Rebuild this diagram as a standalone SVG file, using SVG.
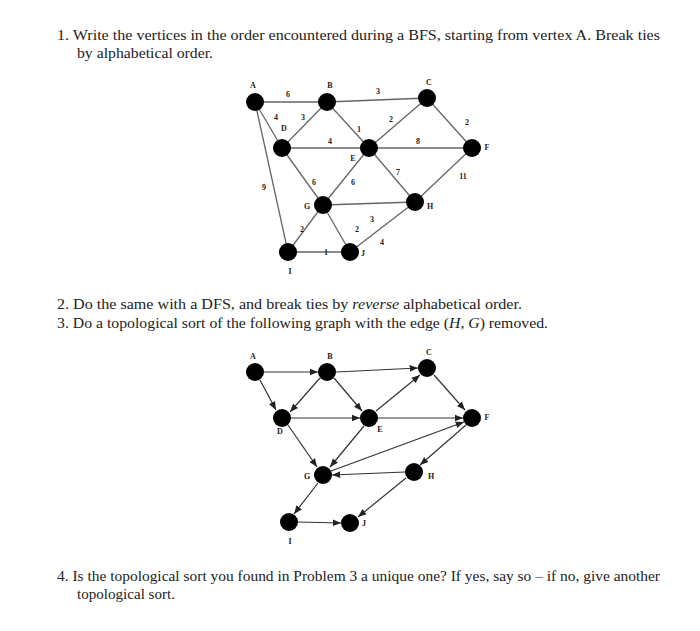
<svg xmlns="http://www.w3.org/2000/svg" width="700" height="631" viewBox="0 0 700 631">
<style>
.t{font-family:"Liberation Serif",serif;font-size:15.5px;fill:#222}
.e{stroke:#666;stroke-width:1.3;fill:none}
.a{stroke:#333;stroke-width:1.2;fill:none;marker-end:url(#ar)}
.n{fill:#000}
.l{font-family:"Liberation Serif",serif;font-size:8px;font-weight:bold;fill:#222;text-anchor:middle}
</style>
<defs><marker id="ar" viewBox="0 0 10 10" refX="10" refY="5" markerWidth="7" markerHeight="7" orient="auto"><path d="M0,1 L10,5 L0,9 z" fill="#222"/></marker></defs>
<rect width="700" height="631" fill="#fff"/>
<text class="t" x="57" y="40" textLength="603" lengthAdjust="spacingAndGlyphs">1. Write the vertices in the order encountered during a BFS, starting from vertex A. Break ties</text>
<text class="t" x="77" y="58" textLength="136" lengthAdjust="spacingAndGlyphs">by alphabetical order.</text>
<text class="t" x="57" y="309" textLength="465" lengthAdjust="spacingAndGlyphs">2. Do the same with a DFS, and break ties by <tspan font-style="italic">reverse</tspan> alphabetical order.</text>
<text class="t" x="57" y="328" textLength="491" lengthAdjust="spacingAndGlyphs">3. Do a topological sort of the following graph with the edge (<tspan font-style="italic">H, G</tspan>) removed.</text>
<text class="t" x="57" y="581" textLength="603" lengthAdjust="spacingAndGlyphs">4. Is the topological sort you found in Problem 3 a unique one? If yes, say so – if no, give another</text>
<text class="t" x="77" y="599" textLength="98" lengthAdjust="spacingAndGlyphs">topological sort.</text>
<g id="edges1">
<path class="e" d="M255,102L327,102M327,102L427,98M255,102L282,148M327,102L282,148M327,102L369,148M427,98L369,148M282,148L472,148M427,98L472,148M255,102L288,252M282,148L323,205M369,148L323,205M369,148L415,202M472,148L415,202M323,205L415,202M323,205L288,252M323,205L350,252M288,252L350,252M415,202L350,252"/>
</g>
<g id="weights1" class="l">
<text x="288" y="97">6</text><text x="378" y="94">3</text><text x="276" y="120">4</text><text x="303" y="120">3</text><text x="359" y="132">1</text><text x="391" y="122">2</text><text x="330" y="144">4</text><text x="418" y="144">8</text><text x="467" y="125">2</text><text x="264" y="190">9</text><text x="314" y="185">6</text><text x="353" y="185">6</text><text x="398" y="175">7</text><text x="463" y="179">11</text><text x="372" y="222">3</text><text x="302" y="232">2</text><text x="357" y="232">2</text><text x="326" y="255">1</text><text x="382" y="245">4</text>
</g>
<g id="nodes1">
<g id="g1A"><circle class="n" cx="255" cy="102" r="9"/><text class="l" x="253" y="88">A</text></g>
<g id="g1B"><circle class="n" cx="327" cy="102" r="9"/><text class="l" x="330" y="88">B</text></g>
<g id="g1C"><circle class="n" cx="427" cy="98" r="9"/><text class="l" x="429" y="85">C</text></g>
<g id="g1D"><circle class="n" cx="282" cy="148" r="9"/><text class="l" x="284" y="131">D</text></g>
<g id="g1E"><circle class="n" cx="369" cy="148" r="9"/><text class="l" x="353" y="161">E</text></g>
<g id="g1F"><circle class="n" cx="472" cy="148" r="9"/><text class="l" x="487" y="150">F</text></g>
<g id="g1G"><circle class="n" cx="323" cy="205" r="9"/><text class="l" x="307" y="209">G</text></g>
<g id="g1H"><circle class="n" cx="415" cy="202" r="9"/><text class="l" x="430" y="209">H</text></g>
<g id="g1I"><circle class="n" cx="288" cy="252" r="9"/><text class="l" x="290" y="274">I</text></g>
<g id="g1J"><circle class="n" cx="350" cy="252" r="9"/><text class="l" x="363" y="256">J</text></g>
</g>
<g id="edges2">
<path class="a" d="M264,372L318,372"/><path class="a" d="M260,380L276,410"/><path class="a" d="M336,372L418,368"/><path class="a" d="M320,378L290,412"/><path class="a" d="M334,378L362,411"/><path class="a" d="M434,375L465,410"/><path class="a" d="M291,418L360,418"/><path class="a" d="M288,425L317,467"/><path class="a" d="M376,411L420,375"/><path class="a" d="M378,418L463,418"/><path class="a" d="M364,426L330,467"/><path class="a" d="M331,471L464,422"/><path class="a" d="M466,425L420,465"/><path class="a" d="M405,472L332,475"/><path class="a" d="M406,478L358,517"/><path class="a" d="M318,483L294,514"/><path class="a" d="M298,522L341,523"/>
</g>
<g id="nodes2">
<g id="g2A"><circle class="n" cx="255" cy="372" r="9"/><text class="l" x="253" y="359">A</text></g>
<g id="g2B"><circle class="n" cx="327" cy="372" r="9"/><text class="l" x="330" y="359">B</text></g>
<g id="g2C"><circle class="n" cx="427" cy="368" r="9"/><text class="l" x="429" y="355">C</text></g>
<g id="g2D"><circle class="n" cx="282" cy="418" r="9"/><text class="l" x="280" y="434">D</text></g>
<g id="g2E"><circle class="n" cx="369" cy="418" r="9"/><text class="l" x="380" y="432">E</text></g>
<g id="g2F"><circle class="n" cx="472" cy="418" r="9"/><text class="l" x="487" y="420">F</text></g>
<g id="g2G"><circle class="n" cx="323" cy="475" r="9"/><text class="l" x="307" y="479">G</text></g>
<g id="g2H"><circle class="n" cx="414" cy="472" r="9"/><text class="l" x="431" y="479">H</text></g>
<g id="g2I"><circle class="n" cx="289" cy="522" r="9"/><text class="l" x="290" y="544">I</text></g>
<g id="g2J"><circle class="n" cx="350" cy="523" r="9"/><text class="l" x="364" y="526">J</text></g>
</g>
</svg>
